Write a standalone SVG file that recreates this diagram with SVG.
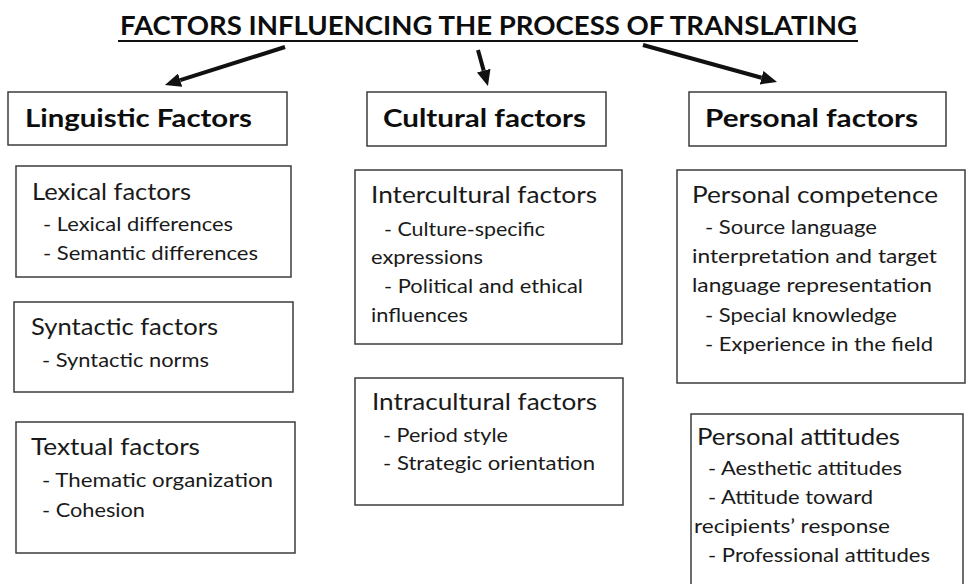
<svg xmlns="http://www.w3.org/2000/svg" width="966" height="584" viewBox="0 0 966 584">
  <style>
    .bg { fill: #ffffff; }
    .box { fill: #ffffff; stroke: #3c3c3c; stroke-width: 1.5; }
    .title { font-family: "Lato", "Open Sans", sans-serif; font-weight: 700; font-size: 26.5px; fill: #0d0d0d; }
    .head { font-family: "Lato", "Open Sans", sans-serif; font-weight: 700; font-size: 24px; fill: #0d0d0d; }
    .sub { font-family: "Lato", "Open Sans", sans-serif; font-size: 23px; fill: #1a1a1a; }
    .item { font-family: "Lato", "Open Sans", sans-serif; font-size: 20px; fill: #1a1a1a; }
    .arrow { stroke: #111111; stroke-width: 4; fill: none; }
  </style>
  <defs>
    <marker id="head" viewBox="0 0 16 14" refX="0" refY="7" markerWidth="16" markerHeight="14" markerUnits="userSpaceOnUse" orient="auto">
      <path d="M0,0 L16,7 L0,14 z" fill="#111111"/>
    </marker>
  </defs>

  <rect class="bg" x="0" y="0" width="966" height="584"/>

  <!-- heading with underline -->
  <g id="title">
    <text class="title" x="120" y="35" textLength="737" lengthAdjust="spacingAndGlyphs">FACTORS INFLUENCING THE PROCESS OF TRANSLATING</text>
    <line x1="118" y1="41" x2="858" y2="41" stroke="#111111" stroke-width="2"/>
  </g>

  <!-- connectors from the heading to the three columns -->
  <g id="connectors">
    <line class="arrow" x1="285" y1="47" x2="180.2" y2="80.2" marker-end="url(#head)"/>
    <line class="arrow" x1="478" y1="50" x2="483.7" y2="70.6" marker-end="url(#head)"/>
    <line class="arrow" x1="643" y1="45" x2="761.6" y2="77.7" marker-end="url(#head)"/>
  </g>

  <!-- column headers -->
  <g id="linguistic">
    <rect class="box" x="8" y="92" width="279" height="53"/>
    <text class="head" x="25" y="127" textLength="227" lengthAdjust="spacingAndGlyphs">Linguistic Factors</text>
  </g>
  <g id="cultural">
    <rect class="box" x="367" y="92" width="239" height="54"/>
    <text class="head" x="383" y="127" textLength="203" lengthAdjust="spacingAndGlyphs">Cultural factors</text>
  </g>
  <g id="personal">
    <rect class="box" x="689" y="92" width="257" height="54"/>
    <text class="head" x="705" y="127" textLength="213" lengthAdjust="spacingAndGlyphs">Personal factors</text>
  </g>

  <!-- linguistic column -->
  <g id="lexical">
    <rect class="box" x="16" y="166" width="275" height="111"/>
    <text class="sub" x="32" y="200" textLength="159" lengthAdjust="spacingAndGlyphs">Lexical factors</text>
    <text class="item" x="43" y="231" textLength="190" lengthAdjust="spacingAndGlyphs">- Lexical differences</text>
    <text class="item" x="43" y="260" textLength="215" lengthAdjust="spacingAndGlyphs">- Semantic differences</text>
  </g>
  <g id="syntactic">
    <rect class="box" x="14" y="302" width="279" height="90"/>
    <text class="sub" x="31" y="335" textLength="187" lengthAdjust="spacingAndGlyphs">Syntactic factors</text>
    <text class="item" x="42" y="367" textLength="167" lengthAdjust="spacingAndGlyphs">- Syntactic norms</text>
  </g>
  <g id="textual">
    <rect class="box" x="16" y="422" width="279" height="131"/>
    <text class="sub" x="31" y="455" textLength="169" lengthAdjust="spacingAndGlyphs">Textual factors</text>
    <text class="item" x="42" y="487" textLength="231" lengthAdjust="spacingAndGlyphs">- Thematic organization</text>
    <text class="item" x="42" y="517" textLength="103" lengthAdjust="spacingAndGlyphs">- Cohesion</text>
  </g>

  <!-- cultural column -->
  <g id="intercultural">
    <rect class="box" x="355" y="170" width="267" height="174"/>
    <text class="sub" x="371" y="203" textLength="226" lengthAdjust="spacingAndGlyphs">Intercultural factors</text>
    <text class="item" x="384" y="236" textLength="161" lengthAdjust="spacingAndGlyphs">- Culture-specific</text>
    <text class="item" x="371" y="264" textLength="112" lengthAdjust="spacingAndGlyphs">expressions</text>
    <text class="item" x="384" y="293" textLength="199" lengthAdjust="spacingAndGlyphs">- Political and ethical</text>
    <text class="item" x="371" y="322" textLength="97" lengthAdjust="spacingAndGlyphs">influences</text>
  </g>
  <g id="intracultural">
    <rect class="box" x="355" y="378" width="268" height="127"/>
    <text class="sub" x="372" y="410" textLength="225" lengthAdjust="spacingAndGlyphs">Intracultural factors</text>
    <text class="item" x="383" y="442" textLength="125" lengthAdjust="spacingAndGlyphs">- Period style</text>
    <text class="item" x="383" y="470" textLength="212" lengthAdjust="spacingAndGlyphs">- Strategic orientation</text>
  </g>

  <!-- personal column -->
  <g id="competence">
    <rect class="box" x="677" y="170" width="288" height="213"/>
    <text class="sub" x="692" y="203" textLength="246" lengthAdjust="spacingAndGlyphs">Personal competence</text>
    <text class="item" x="705" y="234" textLength="172" lengthAdjust="spacingAndGlyphs">- Source language</text>
    <text class="item" x="692" y="263" textLength="245" lengthAdjust="spacingAndGlyphs">interpretation and target</text>
    <text class="item" x="692" y="292" textLength="240" lengthAdjust="spacingAndGlyphs">language representation</text>
    <text class="item" x="705" y="322" textLength="192" lengthAdjust="spacingAndGlyphs">- Special knowledge</text>
    <text class="item" x="705" y="351" textLength="228" lengthAdjust="spacingAndGlyphs">- Experience in the field</text>
  </g>
  <g id="attitudes">
    <rect class="box" x="691" y="414" width="272" height="175"/>
    <text class="sub" x="697" y="445" textLength="203" lengthAdjust="spacingAndGlyphs">Personal attitudes</text>
    <text class="item" x="708" y="475" textLength="194" lengthAdjust="spacingAndGlyphs">- Aesthetic attitudes</text>
    <text class="item" x="708" y="504" textLength="165" lengthAdjust="spacingAndGlyphs">- Attitude toward</text>
    <text class="item" x="694" y="533" textLength="196" lengthAdjust="spacingAndGlyphs">recipients’ response</text>
    <text class="item" x="708" y="562" textLength="222" lengthAdjust="spacingAndGlyphs">- Professional attitudes</text>
  </g>
</svg>
